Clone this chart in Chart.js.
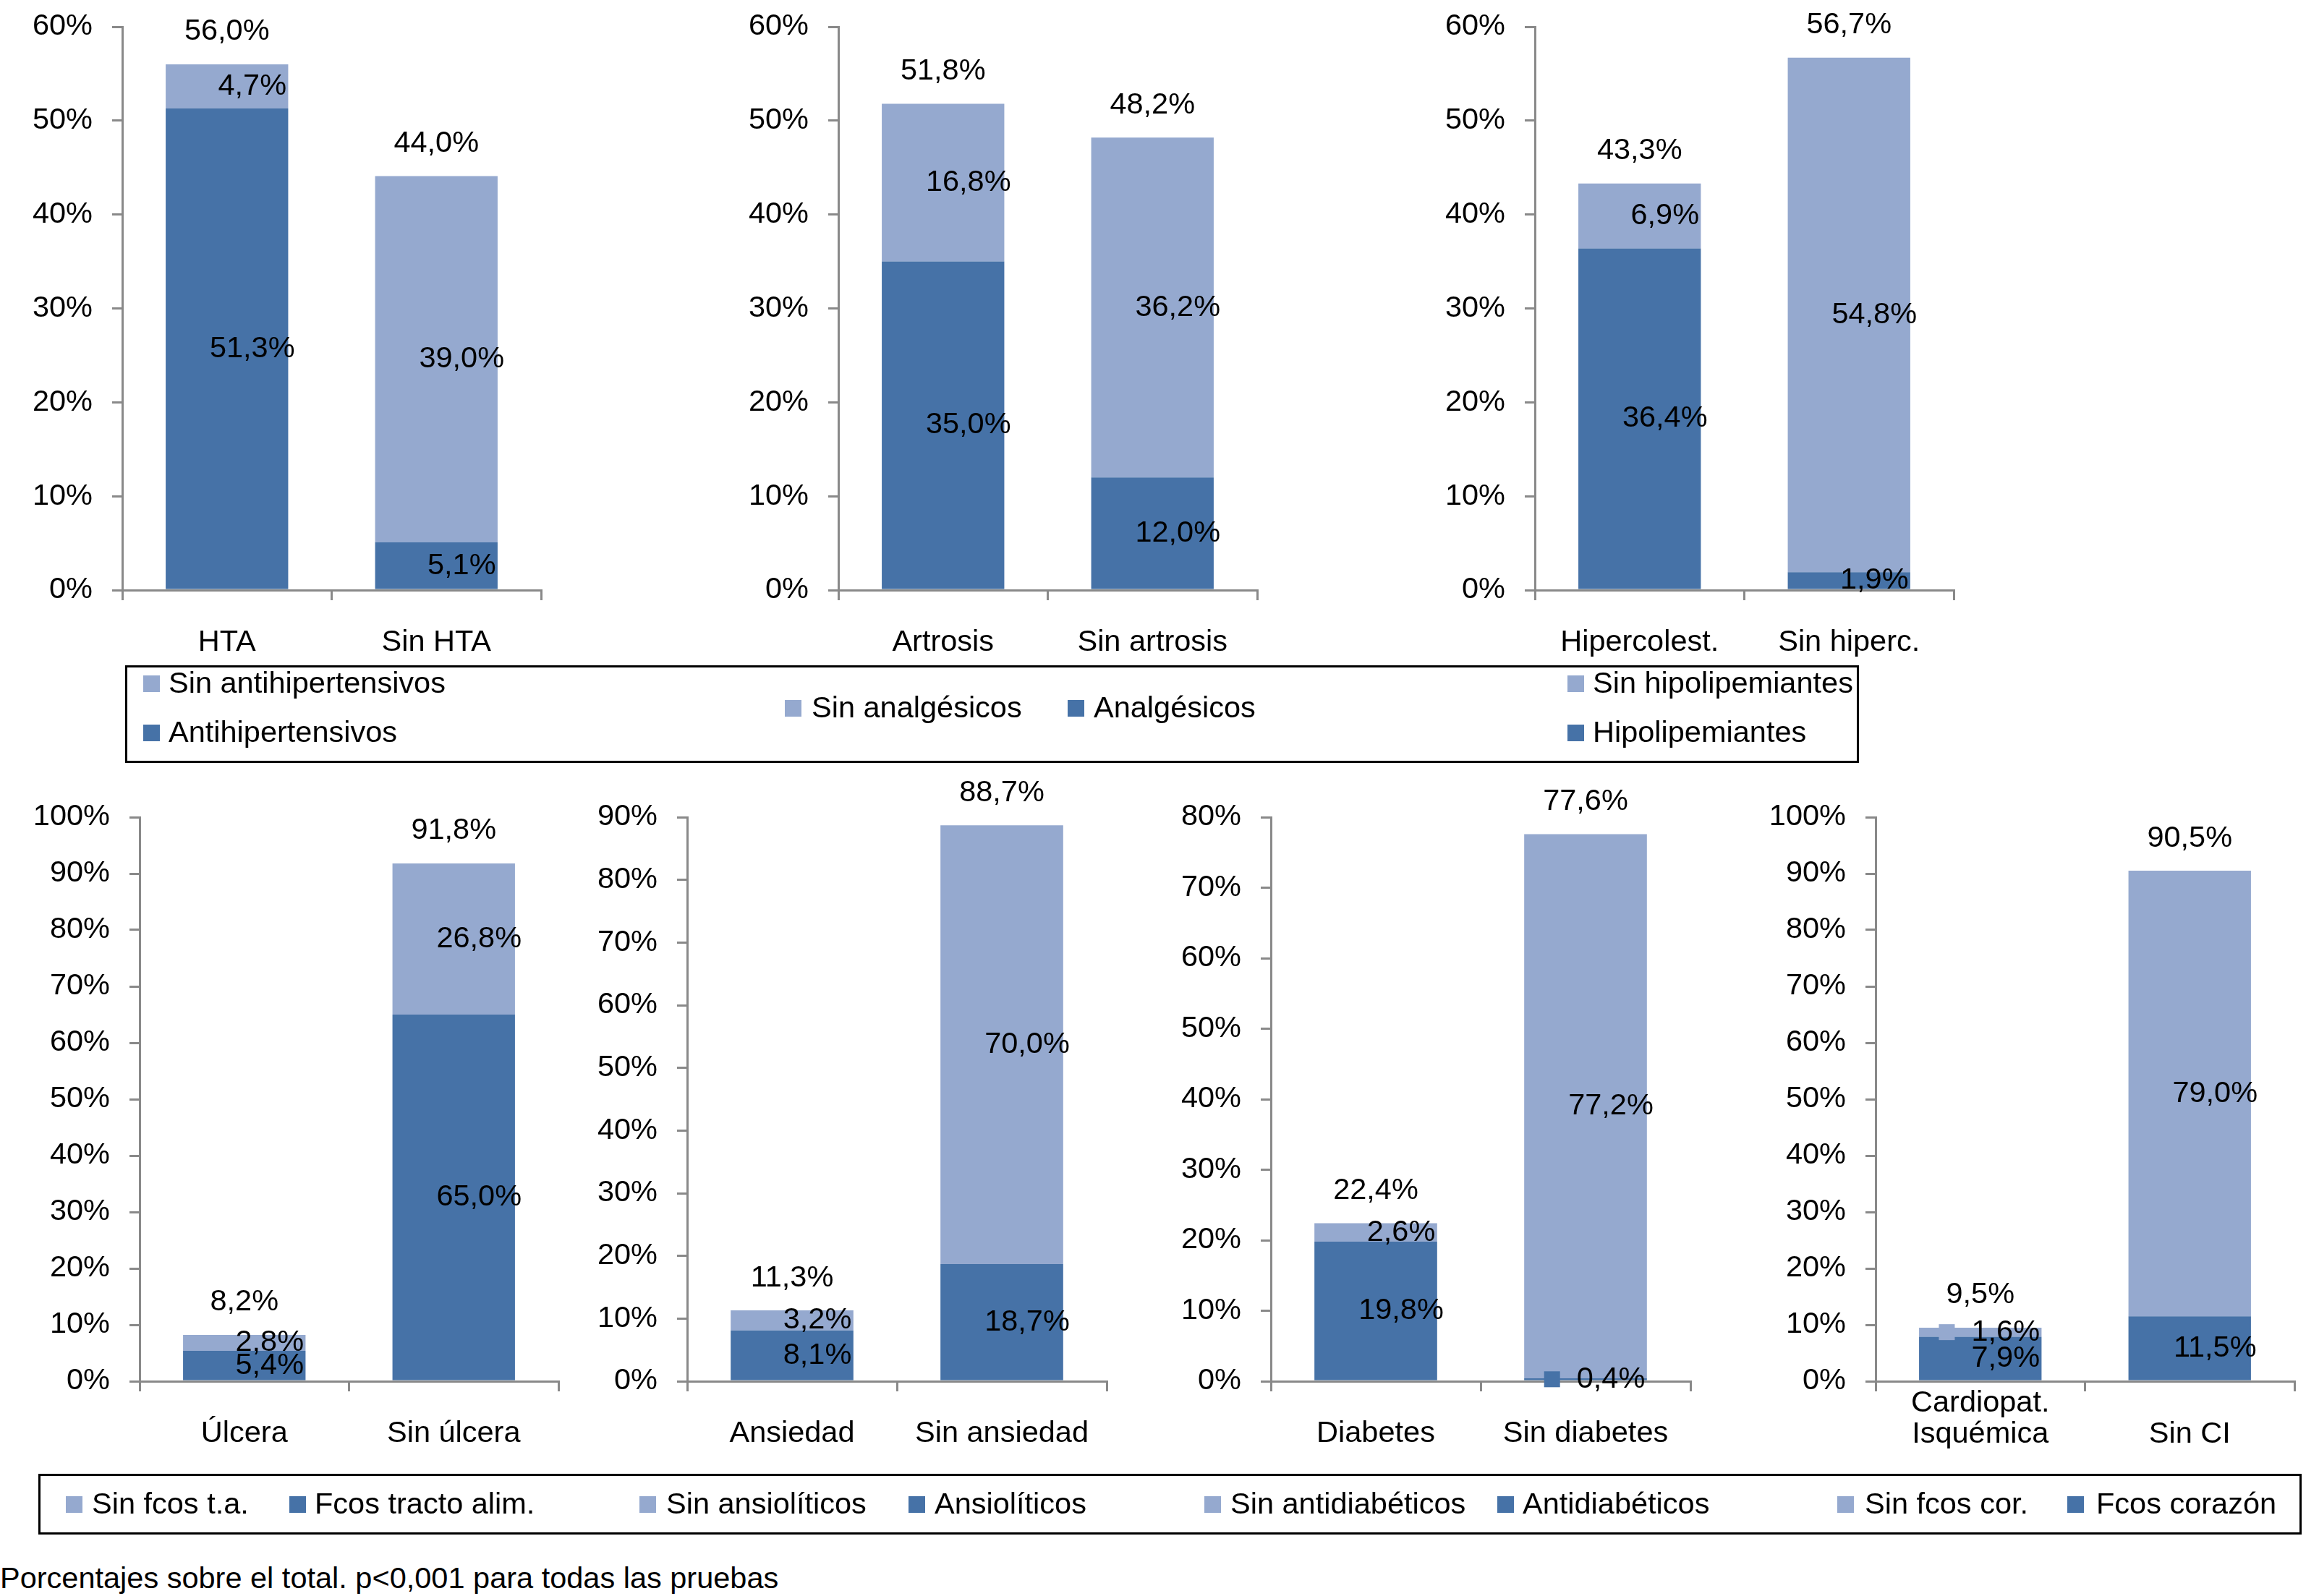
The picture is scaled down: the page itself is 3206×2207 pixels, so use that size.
<!DOCTYPE html>
<html><head><meta charset="utf-8">
<script src="https://cdn.jsdelivr.net/npm/chart.js@4.4.0/dist/chart.umd.min.js"></script>
<style>
html,body{margin:0;padding:0;background:#fff;width:3206px;height:2207px;overflow:hidden;position:relative;font-family:"Liberation Sans",Arial,sans-serif;}
canvas{position:absolute;}
.box{position:absolute;border:3px solid #000;box-sizing:border-box;}
.item{position:absolute;font-size:41.5px;line-height:48px;white-space:nowrap;color:#000;}
.sw{position:absolute;width:23px;height:23px;}
#note{position:absolute;left:0;top:2158px;font-size:41.5px;line-height:48px;white-space:nowrap;color:#000;}
</style></head><body>
<div id="note">Porcentajes sobre el total. p&lt;0,001 para todas las pruebas</div>
<script>
// ---------- DATA ----------
const CAT_HTA = ['HTA', 'Sin HTA'];
const HTA_CON = [51.3, 5.1];
const HTA_SIN = [4.7, 39.0];
const HTA_TOTAL = [56.0, 44.0];

const CAT_ART = ['Artrosis', 'Sin artrosis'];
const ART_CON = [35.0, 12.0];
const ART_SIN = [16.8, 36.2];
const ART_TOTAL = [51.8, 48.2];

const CAT_HIP = ['Hipercolest.', 'Sin hiperc.'];
const HIP_CON = [36.4, 1.9];
const HIP_SIN = [6.9, 54.8];
const HIP_TOTAL = [43.3, 56.7];

const CAT_ULC = ['Úlcera', 'Sin úlcera'];
const ULC_CON = [5.4, 65.0];
const ULC_SIN = [2.8, 26.8];
const ULC_TOTAL = [8.2, 91.8];

const CAT_ANS = ['Ansiedad', 'Sin ansiedad'];
const ANS_CON = [8.1, 18.7];
const ANS_SIN = [3.2, 70.0];
const ANS_TOTAL = [11.3, 88.7];

const CAT_DIA = ['Diabetes', 'Sin diabetes'];
const DIA_CON = [19.8, 0.4];
const DIA_SIN = [2.6, 77.2];
const DIA_TOTAL = [22.4, 77.6];

const CAT_CI = [['Cardiopat.', 'Isquémica'], ['', 'Sin CI']];
const CI_CON = [7.9, 11.5];
const CI_SIN = [1.6, 79.0];
const CI_TOTAL = [9.5, 90.5];

const AXIS_MAX_TOP = 60;
const AXIS_MAX_ULC = 100;
const AXIS_MAX_ANS = 90;
const AXIS_MAX_DIA = 80;
const AXIS_MAX_CI = 100;

// ---------- STYLE ----------
const DARK = '#4672A7';
const LIGHT = '#95A9CF';
const AXIS = '#898989';
const FONT = '"Liberation Sans", Arial, sans-serif';
const FS = 41.5;
const YW = 160, PR = 20, XH = 140;

Chart.defaults.font.family = FONT;

const fmt = v => v.toFixed(1).replace('.', ',') + '%';

const labelPlugin = {
  id: 'segLabels',
  afterDatasetsDraw(chart, args, opts) {
    const ctx = chart.ctx;
    ctx.save();
    ctx.font = FS + 'px ' + FONT;
    ctx.textAlign = 'center';
    ctx.textBaseline = 'middle';
    chart.data.datasets.forEach((ds, di) => {
      const meta = chart.getDatasetMeta(di);
      meta.data.forEach((el, i) => {
        const txt = fmt(ds.data[i]);
        const x = el.x + opts.dx;
        const y = (el.y + el.base) / 2;
        ctx.fillStyle = '#000';
        ctx.fillText(txt, x, y);
        if ((opts.keys || []).some(k => k[0] === di && k[1] === i)) {
          const w = ctx.measureText(txt).width;
          ctx.fillStyle = ds.backgroundColor;
          ctx.fillRect(x - w / 2 - 23 - 22, y - 11, 22, 22);
        }
      });
    });
    const last = chart.getDatasetMeta(chart.data.datasets.length - 1);
    ctx.fillStyle = '#000';
    opts.totals.forEach((t, i) => {
      const el = last.data[i];
      ctx.fillText(fmt(t), el.x, el.y - opts.gap);
    });
    ctx.restore();
  }
};

function makeChart(spec) {
  const W = YW + (spec.x1 - spec.x0) + PR;
  const H = spec.pt + (spec.yB - spec.yT) + XH;
  const c = document.createElement('canvas');
  c.width = W; c.height = H;
  c.style.left = (spec.x0 - YW) + 'px';
  c.style.top = (spec.yT - spec.pt) + 'px';
  c.style.width = W + 'px'; c.style.height = H + 'px';
  document.body.appendChild(c);
  const tickFont = { family: FONT, size: FS, lineHeight: spec.lh || 1.2 };
  const grid = { display: true, drawOnChartArea: false, drawTicks: true, tickLength: 14, color: AXIS, lineWidth: 3 };
  const border = { display: true, color: AXIS, width: 3 };
  return new Chart(c, {
    type: 'bar',
    data: {
      labels: spec.labels,
      datasets: [
        { label: spec.names[0], data: spec.dark, backgroundColor: DARK, barPercentage: 0.585, categoryPercentage: 1 },
        { label: spec.names[1], data: spec.light, backgroundColor: LIGHT, barPercentage: 0.585, categoryPercentage: 1 }
      ]
    },
    options: {
      responsive: false, animation: false, devicePixelRatio: 1,
      layout: { padding: { top: spec.pt, right: PR, left: 0, bottom: 0 } },
      plugins: {
        legend: { display: false }, tooltip: { enabled: false },
        segLabels: { totals: spec.totals, dx: 35, gap: 45, keys: spec.keys || [] }
      },
      scales: {
        x: {
          stacked: true,
          grid: Object.assign({ offset: true }, grid), border,
          ticks: { color: '#000', font: tickFont, padding: spec.xpad, maxRotation: 0, minRotation: 0, autoSkip: false },
          afterFit: s => { s.height = XH; }
        },
        y: {
          stacked: true, min: 0, max: spec.max,
          grid, border,
          ticks: { stepSize: 10, callback: v => v + '%', color: '#000', font: { family: FONT, size: FS }, padding: 27 },
          afterFit: s => { s.width = YW; }
        }
      }
    },
    plugins: [labelPlugin]
  });
}

const TOP = { yT: 37, yB: 816, pt: 70, xpad: 34 };
const BOT = { yT: 1130, yB: 1910, pt: 80, xpad: 34 };

const charts = [
  makeChart(Object.assign({}, TOP, { x0: 169, x1: 748, max: AXIS_MAX_TOP, labels: CAT_HTA, dark: HTA_CON, light: HTA_SIN, totals: HTA_TOTAL, names: ['Antihipertensivos', 'Sin antihipertensivos'] })),
  makeChart(Object.assign({}, TOP, { x0: 1159, x1: 1738, max: AXIS_MAX_TOP, labels: CAT_ART, dark: ART_CON, light: ART_SIN, totals: ART_TOTAL, names: ['Analgésicos', 'Sin analgésicos'] })),
  makeChart(Object.assign({}, TOP, { x0: 2122, x1: 2701, max: AXIS_MAX_TOP, labels: CAT_HIP, dark: HIP_CON, light: HIP_SIN, totals: HIP_TOTAL, names: ['Hipolipemiantes', 'Sin hipolipemiantes'] })),
  makeChart(Object.assign({}, BOT, { x0: 193, x1: 772, max: AXIS_MAX_ULC, labels: CAT_ULC, dark: ULC_CON, light: ULC_SIN, totals: ULC_TOTAL, names: ['Fcos tracto alim.', 'Sin fcos t.a.'] })),
  makeChart(Object.assign({}, BOT, { x0: 950, x1: 1530, max: AXIS_MAX_ANS, labels: CAT_ANS, dark: ANS_CON, light: ANS_SIN, totals: ANS_TOTAL, names: ['Ansiolíticos', 'Sin ansiolíticos'] })),
  makeChart(Object.assign({}, BOT, { x0: 1757, x1: 2337, max: AXIS_MAX_DIA, labels: CAT_DIA, dark: DIA_CON, light: DIA_SIN, totals: DIA_TOTAL, names: ['Antidiabéticos', 'Sin antidiabéticos'], keys: [[0, 1]] })),
  makeChart(Object.assign({}, BOT, { x0: 2593, x1: 3172, max: AXIS_MAX_CI, labels: CAT_CI, dark: CI_CON, light: CI_SIN, totals: CI_TOTAL, names: ['Fcos corazón', 'Sin fcos cor.'], keys: [[1, 0]], lh: 1.04, xpad: -5 }))
];

// ---------- LEGENDS (built from the charts' datasets) ----------
function box(l, t, r, b) {
  const d = document.createElement('div');
  d.className = 'box';
  Object.assign(d.style, { left: l + 'px', top: t + 'px', width: (r - l) + 'px', height: (b - t) + 'px' });
  document.body.appendChild(d);
}
function item(chart, di, swX, txtX, cy) {
  const ds = chart.data.datasets[di];
  const s = document.createElement('div');
  s.className = 'sw';
  Object.assign(s.style, { left: swX + 'px', top: (cy - 10) + 'px', background: ds.backgroundColor });
  document.body.appendChild(s);
  const t = document.createElement('div');
  t.className = 'item';
  t.textContent = ds.label;
  Object.assign(t.style, { left: txtX + 'px', top: (cy - 24) + 'px' });
  document.body.appendChild(t);
}
box(173, 920, 2570, 1055);
item(charts[0], 1, 198, 233, 944);
item(charts[0], 0, 198, 233, 1012);
item(charts[1], 1, 1085, 1122, 978);
item(charts[1], 0, 1476, 1512, 978);
item(charts[2], 1, 2167, 2202, 944);
item(charts[2], 0, 2167, 2202, 1012);

box(53, 2038, 3182, 2122);
const LY = 2079;
item(charts[3], 1, 91, 127, LY);
item(charts[3], 0, 400, 435, LY);
item(charts[4], 1, 884, 921, LY);
item(charts[4], 0, 1256, 1292, LY);
item(charts[5], 1, 1665, 1701, LY);
item(charts[5], 0, 2070, 2105, LY);
item(charts[6], 1, 2540, 2578, LY);
item(charts[6], 0, 2858, 2898, LY);
</script>
</body></html>
